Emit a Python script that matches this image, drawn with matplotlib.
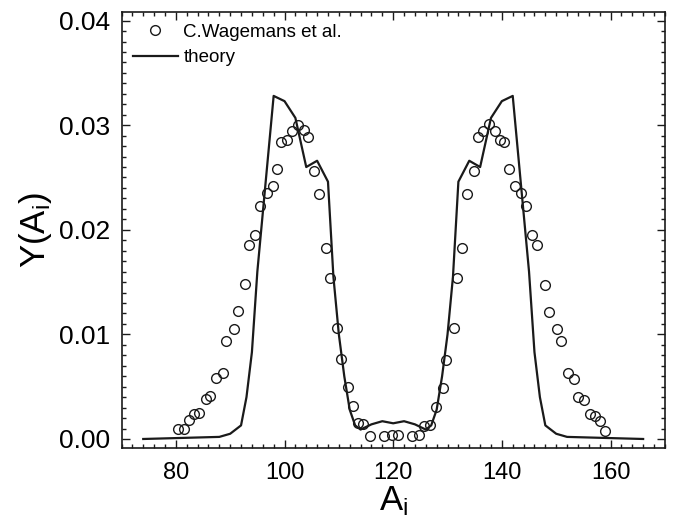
import matplotlib
matplotlib.use("Agg")
import matplotlib.pyplot as plt
from matplotlib.ticker import MultipleLocator

plt.rcParams['font.family'] = ['Liberation Sans', 'DejaVu Sans']
plt.rcParams['mathtext.fontset'] = 'custom'
plt.rcParams['mathtext.rm'] = 'Liberation Sans'
plt.rcParams['mathtext.it'] = 'Liberation Sans'

# эксперимент (C.Wagemans et al.)
A_exp = [80.4, 81.5, 82.4, 83.3, 84.3, 85.5, 86.3, 87.3, 88.6, 89.3,
         90.7, 91.4, 92.8, 93.4, 94.5, 95.5, 96.7, 97.8, 98.6, 99.4,
         100.5, 101.4, 102.4, 103.5, 104.3, 105.4, 106.4, 107.6, 108.3, 109.6,
         110.4, 111.6, 112.6, 113.6, 114.5, 115.7, 118.4, 119.7, 120.9, 123.5,
         124.8, 125.7, 126.8, 127.9, 129.1, 129.7, 131.1, 131.7, 132.6, 133.6,
         134.8, 135.6, 136.6, 137.6, 138.7, 139.6, 140.4, 141.3, 142.4, 143.5,
         144.5, 145.6, 146.4, 148.0, 148.7, 150.2, 150.9, 152.2, 153.3, 154.1,
         155.2, 156.2, 157.1, 158.0, 159.0]
Y_exp = [0.00093, 0.00093, 0.00182, 0.00236, 0.00252, 0.0038, 0.00414, 0.00581, 0.00634, 0.00941,
         0.01056, 0.01222, 0.01477, 0.01856, 0.01952, 0.02223, 0.02347, 0.02414, 0.02577, 0.02839,
         0.02858, 0.02944, 0.03005, 0.0295, 0.02887, 0.02565, 0.02344, 0.01825, 0.01538, 0.01059,
         0.00763, 0.00495, 0.00316, 0.00153, 0.00141, 0.00032, 0.00025, 0.00035, 0.00035, 0.00028,
         0.00038, 0.00124, 0.00134, 0.00303, 0.00483, 0.00756, 0.01059, 0.01536, 0.01825, 0.02344,
         0.02562, 0.02887, 0.02947, 0.03008, 0.02947, 0.02861, 0.02839, 0.02577, 0.02414, 0.02351,
         0.02223, 0.01952, 0.01856, 0.01476, 0.01218, 0.01051, 0.00935, 0.0063, 0.00571, 0.00404,
         0.00368, 0.00243, 0.00224, 0.00169, 0.00079]

# теория
A_th = [74, 88, 90, 92, 93, 94, 95, 98, 100, 102, 104, 106, 108, 109, 110,
        111, 112, 113, 114, 116, 118, 120, 122, 124, 126, 127, 128, 129, 130,
        131, 132, 134, 136, 138, 140, 142, 145, 146, 147, 148, 150, 152, 166]
Y_th = [0.0, 0.0002, 0.0005, 0.0013, 0.0040, 0.0083, 0.0160, 0.0328, 0.0323, 0.0307, 0.0260, 0.0266, 0.0246, 0.0155, 0.0100,
        0.0060, 0.0028, 0.0013, 0.0009, 0.0014, 0.0017, 0.0015, 0.0017, 0.0014, 0.0009, 0.0013, 0.0028, 0.0060, 0.0100,
        0.0155, 0.0246, 0.0266, 0.0260, 0.0307, 0.0323, 0.0328, 0.0160, 0.0083, 0.0040, 0.0013, 0.0005, 0.0002, 0.0]

fig = plt.figure(figsize=(6.75, 5.25), dpi=100)
ax = fig.add_axes([0.180, 0.1467, 0.805, 0.83])

ax.plot(A_exp, Y_exp, 'o', mfc='none', mec='#1a1a1a', ms=7, mew=1.0,
        label='C.Wagemans et al.')
ax.plot(A_th, Y_th, '-', color='#1a1a1a', lw=1.6, label='theory')

ax.set_xlim(70, 170)
ax.set_ylim(-0.00086, 0.0408)
ax.xaxis.set_major_locator(MultipleLocator(20))
ax.xaxis.set_minor_locator(MultipleLocator(2))
ax.yaxis.set_major_locator(MultipleLocator(0.01))
ax.yaxis.set_minor_locator(MultipleLocator(0.001))
ax.yaxis.set_major_formatter(plt.FormatStrFormatter('%.2f'))

ax.tick_params(which='both', direction='in', top=True, right=True, width=1.0, color='#1a1a1a')
ax.tick_params(which='major', length=5.5)
ax.tick_params(which='minor', length=3)
ax.tick_params(axis='x', which='major', labelsize=17, pad=10)
ax.tick_params(axis='y', which='major', labelsize=19, pad=8)
for s in ax.spines.values():
    s.set_linewidth(1.2)
    s.set_color('#1a1a1a')

ax.set_xlabel(r'A$_\mathregular{i}$', fontsize=25, labelpad=0)
ax.set_ylabel(r'Y(A$_\mathregular{i}$)', fontsize=25, labelpad=4)

ax.legend(loc='upper left', frameon=False, fontsize=13.5, handlelength=2.4,
          handletextpad=0.3, labelspacing=0.45, borderaxespad=0.4,
          borderpad=0.2)

fig.savefig('out.png', dpi=100)
